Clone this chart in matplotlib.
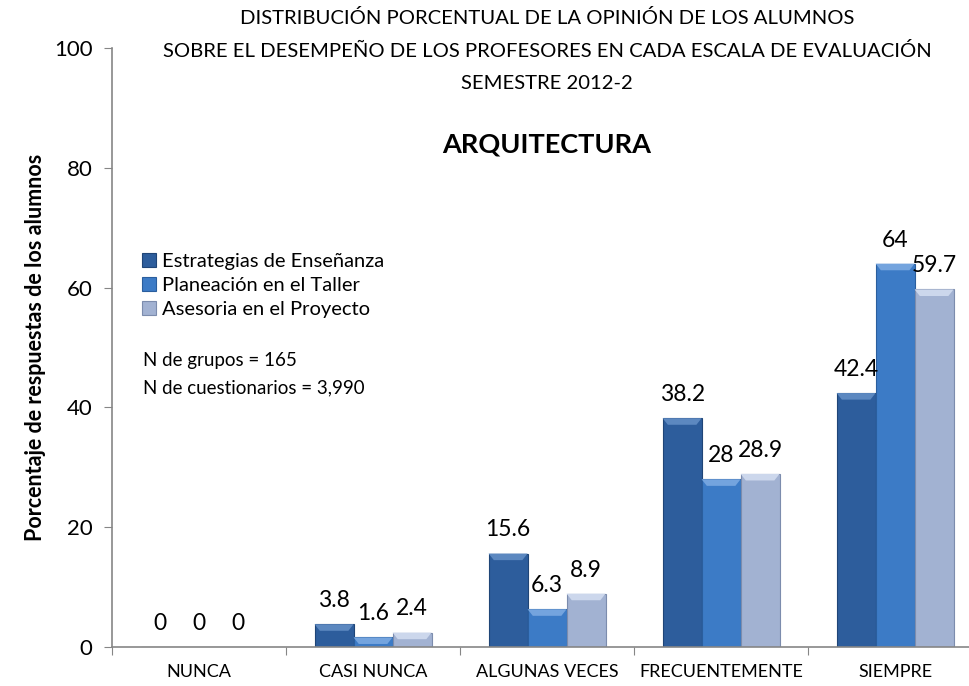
import matplotlib
matplotlib.use("Agg")
import matplotlib.pyplot as plt
import numpy as np
from matplotlib.patches import Polygon

plt.rcParams["font.family"] = ["Lato", "DejaVu Sans"]

categorias = ["NUNCA", "CASI NUNCA", "ALGUNAS VECES", "FRECUENTEMENTE", "SIEMPRE"]
series = ["Estrategias de Enseñanza", "Planeación en el Taller", "Asesoria en el Proyecto"]
estrategias = [0, 3.8, 15.6, 38.2, 42.4]
planeacion = [0, 1.6, 6.3, 28, 64]
asesoria = [0, 2.4, 8.9, 28.9, 59.7]
yticks = [0, 20, 40, 60, 80, 100]

colores = ["#2d5d9c", "#3c7bc6", "#a2b2d2"]
bordes = ["#1f4577", "#2a5e9e", "#7c8cad"]
claros = ["#5c88c0", "#74a4de", "#ccd7ec"]

fig = plt.figure(figsize=(9.7, 6.86), dpi=100)
ax = fig.add_axes([0.1155, 0.0569, 0.897, 0.873])

x = np.arange(len(categorias))
ancho = 0.224
valores = [estrategias, planeacion, asesoria]

for i, vals in enumerate(valores):
    barras = ax.bar(x + (i - 1) * ancho, vals, ancho, color=colores[i],
                    edgecolor=bordes[i], linewidth=0.8, label=series[i], zorder=2)
    for b, v in zip(barras, vals):
        if v > 0:
            # tapa biselada
            x0, w, h = b.get_x(), b.get_width(), b.get_height()
            cap = min(1.1, h)
            ax.add_patch(Polygon([[x0, h], [x0 + w, h], [x0 + w - 0.03, h - cap],
                                  [x0 + 0.03, h - cap]], closed=True,
                                 facecolor=claros[i], edgecolor="none", zorder=3))
        ax.annotate(f"{v:g}", (b.get_x() + b.get_width() / 2, v),
                    xytext=(0, 17), textcoords="offset points",
                    ha="center", va="center", fontsize=16.5, zorder=4)

ax.set_xlim(-0.5, len(categorias) - 0.5)
ax.set_ylim(0, 100)
ax.set_yticks(yticks)
ax.tick_params(axis="y", labelsize=16, length=6, color="#868686", pad=8)

ax.set_xticks(np.arange(len(categorias) + 1) - 0.5)
ax.set_xticklabels([])
ax.tick_params(axis="x", which="major", length=6, color="#868686")
ax.set_xticks(x, minor=True)
ax.set_xticklabels(categorias, minor=True)
ax.tick_params(axis="x", which="minor", length=0, labelsize=13, pad=12)

for s in ["top", "right"]:
    ax.spines[s].set_visible(False)
for s in ["left", "bottom"]:
    ax.spines[s].set_color("#868686")
    ax.spines[s].set_linewidth(1.2)

ax.set_ylabel("Porcentaje de respuestas de los alumnos", fontsize=15.5,
              fontweight="bold", labelpad=6)

ax.legend(loc="upper left", bbox_to_anchor=(0.025, 0.672), frameon=False,
          fontsize=14.5, handlelength=0.7, handleheight=0.7, handletextpad=0.3,
          labelspacing=0.35, borderaxespad=0)

ax.text(0.036, 0.479, "N de grupos = 165", transform=ax.transAxes,
        fontsize=13.5, va="center")
ax.text(0.036, 0.432, "N de cuestionarios = 3,990", transform=ax.transAxes,
        fontsize=13.5, va="center")

fig.text(0.564, 0.974, "DISTRIBUCIÓN PORCENTUAL DE LA OPINIÓN DE LOS ALUMNOS",
         ha="center", va="center", fontsize=14.6)
fig.text(0.564, 0.926, "SOBRE EL DESEMPEÑO DE LOS PROFESORES EN CADA ESCALA DE EVALUACIÓN",
         ha="center", va="center", fontsize=14.6)
fig.text(0.564, 0.878, "SEMESTRE 2012-2", ha="center", va="center", fontsize=14.6)
fig.text(0.564, 0.789, "ARQUITECTURA", ha="center", va="center",
         fontsize=19.5, fontweight="bold")

fig.savefig("out.png", dpi=100)
